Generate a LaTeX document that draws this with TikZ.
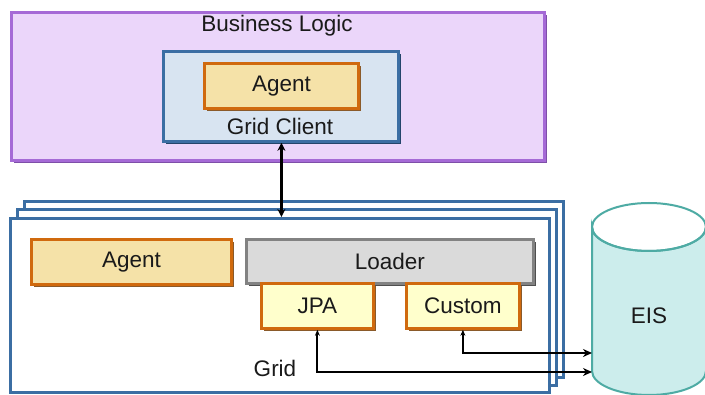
\documentclass[tikz,border=0pt]{standalone}
\usepackage{fontspec}
\setmainfont{Liberation Sans}
\usetikzlibrary{arrows.meta,shadows}

\definecolor{blfill}{HTML}{EBD6FA}
\definecolor{bldraw}{HTML}{A56AD6}
\definecolor{blshadow}{HTML}{7E4FA8}
\definecolor{gcfill}{HTML}{D8E4F1}
\definecolor{bluedraw}{HTML}{3B6EA3}
\definecolor{blueshadow}{HTML}{24456B}
\definecolor{agfill}{HTML}{F5E2A8}
\definecolor{orangedraw}{HTML}{D06A0E}
\definecolor{orangeshadow}{HTML}{8A5A2A}
\definecolor{ldfill}{HTML}{DADADA}
\definecolor{lddraw}{HTML}{828282}
\definecolor{ldshadow}{HTML}{4F4F4F}
\definecolor{plfill}{HTML}{FFFFCC}
\definecolor{eisfill}{HTML}{CCEDEC}
\definecolor{eisdraw}{HTML}{4EABA4}
\definecolor{txt}{HTML}{1A1A1A}

\tikzset{
  box/.style={draw, line width=2.8pt, inner sep=0pt, anchor=north west,
    text=txt, font=\fontsize{22.5}{26}\selectfont},
  shade/.style={drop shadow={shadow xshift=2.5pt, shadow yshift=-2.5pt,
    fill=#1, opacity=1}},
  bizbox/.style={box, fill=blfill, draw=bldraw, shade=blshadow},
  clientbox/.style={box, fill=gcfill, draw=bluedraw, shade=blueshadow},
  agentbox/.style={box, fill=agfill, draw=orangedraw, shade=orangeshadow},
  loaderbox/.style={box, fill=ldfill, draw=lddraw, shade=ldshadow},
  pluginbox/.style={box, fill=plfill, draw=orangedraw, shade=orangeshadow},
  gridbox/.style={box, fill=white, draw=bluedraw, line width=3pt},
  label/.style={text=txt, font=\fontsize{22.5}{26}\selectfont, inner sep=0pt},
  link/.style={line width=2.6pt, black},
  datalink/.style={line width=2pt, black,
    {Stealth[length=6pt,width=5pt]}-{Stealth[length=9pt,width=8pt]}},
}

\begin{document}
\begin{tikzpicture}[x=1pt, y=-1pt]
\clip (0,0) rectangle (705,395);
\fill[white] (0,0) rectangle (705,395);

% Business logic tier
\node[bizbox, minimum width=533, minimum height=148] (biz) at (10,11) {};
\node[label] (bizlabel) at (277,26) {Business Logic};
\node[clientbox, minimum width=235, minimum height=90] (client) at (162,50) {};
\node[agentbox, minimum width=154, minimum height=45] (agent1) at (203,62) {Agent};
\node[label] (clientlabel) at (280,126) {Grid Client};

% Stacked grid containers
\node[gridbox, minimum width=539, minimum height=176] (grid3) at (23,200) {};
\node[gridbox, minimum width=539, minimum height=176] (grid2) at (16,208) {};
\node[gridbox, minimum width=539, minimum height=174] (grid) at (9,217) {};

\node[agentbox, minimum width=200, minimum height=45] (agent2) at (30,238) {Agent};
\node[loaderbox, minimum width=287, minimum height=44] (loader) at (245,238) {Loader};
\node[pluginbox, minimum width=112, minimum height=45] (jpa) at (260,282) {JPA};
\node[pluginbox, minimum width=113, minimum height=45] (custom) at (405,282) {Custom};
\node[label] (gridlabel) at (275,368) {Grid};

% EIS data store
\filldraw[fill=eisfill, draw=eisdraw, line width=2pt]
  (592,227) -- (592,371) arc[start angle=180, end angle=0, x radius=57, y radius=24]
  -- (706,227) arc[start angle=0, end angle=180, x radius=57, y radius=24] -- cycle;
\draw[eisdraw, line width=2pt] (649,227) ellipse[x radius=57, y radius=24];
\node[label] (eis) at (649,316) {EIS};

% Connectors
\coordinate (eisA) at (592,353);
\coordinate (eisB) at (592,372);
\draw[link, {Stealth[length=8pt,width=8pt]}-{Stealth[length=8pt,width=8pt]}]
  (client.south -| agent1.south) -- (grid.north -| agent1.south);
\draw[datalink] (custom.south) |- (eisA);
\draw[datalink] (jpa.south) |- (eisB);
\end{tikzpicture}
\end{document}
